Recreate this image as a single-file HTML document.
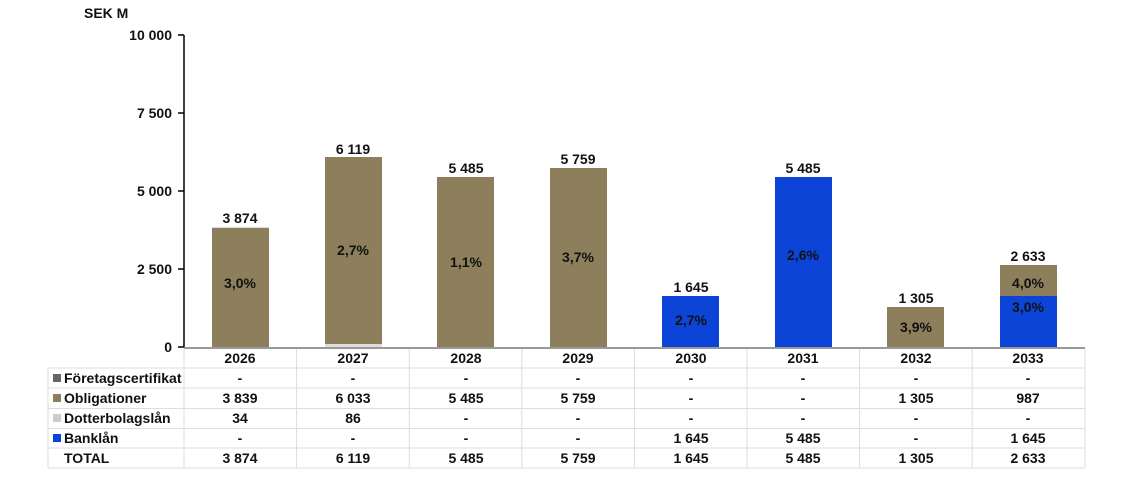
<!DOCTYPE html>
<html><head><meta charset="utf-8"><style>
body{margin:0;background:#fff;}
svg text{font-family:"Liberation Sans",Arial,sans-serif;font-weight:bold;fill:#111;}
</style></head><body>
<svg width="1122" height="473" xmlns="http://www.w3.org/2000/svg">
<text x="84" y="18" font-size="14">SEK M</text>
<g font-size="14" text-anchor="end">
<text x="172" y="40">10 000</text>
<text x="172" y="118">7 500</text>
<text x="172" y="196">5 000</text>
<text x="172" y="274">2 500</text>
<text x="172" y="352">0</text>
</g>
<line x1="184" y1="35" x2="184" y2="347" stroke="#000" stroke-width="1.5"/>
<g stroke="#000" stroke-width="1.5">
<line x1="178" y1="35" x2="184" y2="35"/><line x1="178" y1="113" x2="184" y2="113"/>
<line x1="178" y1="191" x2="184" y2="191"/><line x1="178" y1="269" x2="184" y2="269"/>
<line x1="178" y1="347" x2="184" y2="347"/>
</g>
<g>
<rect x="212" y="228" width="57" height="119" fill="#8E7F5C"/>
<rect x="212" y="227" width="57" height="1" fill="#ddd"/>
<rect x="325" y="157" width="57" height="187" fill="#8E7F5C"/>
<rect x="325" y="344" width="57" height="3" fill="#ddd"/>
<rect x="437" y="177" width="57" height="170" fill="#8E7F5C"/>
<rect x="550" y="168" width="57" height="179" fill="#8E7F5C"/>
<rect x="662" y="296" width="57" height="51" fill="#0C44D8"/>
<rect x="775" y="177" width="57" height="170" fill="#0C44D8"/>
<rect x="887" y="307" width="57" height="40" fill="#8E7F5C"/>
<rect x="1000" y="296" width="57" height="51" fill="#0C44D8"/>
<rect x="1000" y="265" width="57" height="31" fill="#8E7F5C"/>
</g>
<g font-size="14" text-anchor="middle">
<text x="240" y="223">3 874</text>
<text x="353" y="154">6 119</text>
<text x="466" y="173">5 485</text>
<text x="578" y="164">5 759</text>
<text x="691" y="292">1 645</text>
<text x="803" y="173">5 485</text>
<text x="916" y="303">1 305</text>
<text x="1028" y="261">2 633</text>
<text x="240" y="288">3,0%</text>
<text x="353" y="255">2,7%</text>
<text x="466" y="267">1,1%</text>
<text x="578" y="262">3,7%</text>
<text x="691" y="325">2,7%</text>
<text x="803" y="260">2,6%</text>
<text x="916" y="332">3,9%</text>
<text x="1028" y="288">4,0%</text>
<text x="1028" y="312">3,0%</text>
</g>
<line x1="184" y1="348" x2="1085" y2="348" stroke="#999" stroke-width="2"/>
<g stroke="#ddd" stroke-width="1">
<line x1="48" y1="368" x2="1085" y2="368"/>
<line x1="48" y1="388" x2="1085" y2="388"/>
<line x1="48" y1="408.5" x2="1085" y2="408.5"/>
<line x1="48" y1="428.5" x2="1085" y2="428.5"/>
<line x1="48" y1="448" x2="1085" y2="448"/>
<line x1="48" y1="468" x2="1085" y2="468"/>
<line x1="48" y1="368" x2="48" y2="468"/>
<line x1="184" y1="349" x2="184" y2="468"/>
<line x1="296.6" y1="349" x2="296.6" y2="468"/>
<line x1="409.2" y1="349" x2="409.2" y2="468"/>
<line x1="521.8" y1="349" x2="521.8" y2="468"/>
<line x1="634.4" y1="349" x2="634.4" y2="468"/>
<line x1="747" y1="349" x2="747" y2="468"/>
<line x1="859.6" y1="349" x2="859.6" y2="468"/>
<line x1="972.2" y1="349" x2="972.2" y2="468"/>
<line x1="1085" y1="349" x2="1085" y2="468"/>
</g>
<rect x="53" y="374" width="8" height="8" fill="#666"/>
<rect x="53" y="394" width="8" height="8" fill="#8E7F5C"/>
<rect x="53" y="414" width="8" height="8" fill="#ccc"/>
<rect x="53" y="434" width="8" height="8" fill="#0C44D8"/>
<g font-size="14">
<text x="64" y="383">Företagscertifikat</text>
<text x="64" y="403">Obligationer</text>
<text x="64" y="423">Dotterbolagslån</text>
<text x="64" y="443">Banklån</text>
<text x="64" y="463">TOTAL</text>
</g>
<g font-size="14" text-anchor="middle">
<text x="240" y="363">2026</text><text x="353" y="363">2027</text><text x="466" y="363">2028</text><text x="578" y="363">2029</text><text x="691" y="363">2030</text><text x="803" y="363">2031</text><text x="916" y="363">2032</text><text x="1028" y="363">2033</text>
<text x="240" y="383">-</text><text x="353" y="383">-</text><text x="466" y="383">-</text><text x="578" y="383">-</text><text x="691" y="383">-</text><text x="803" y="383">-</text><text x="916" y="383">-</text><text x="1028" y="383">-</text>
<text x="240" y="403">3 839</text><text x="353" y="403">6 033</text><text x="466" y="403">5 485</text><text x="578" y="403">5 759</text><text x="691" y="403">-</text><text x="803" y="403">-</text><text x="916" y="403">1 305</text><text x="1028" y="403">987</text>
<text x="240" y="423">34</text><text x="353" y="423">86</text><text x="466" y="423">-</text><text x="578" y="423">-</text><text x="691" y="423">-</text><text x="803" y="423">-</text><text x="916" y="423">-</text><text x="1028" y="423">-</text>
<text x="240" y="443">-</text><text x="353" y="443">-</text><text x="466" y="443">-</text><text x="578" y="443">-</text><text x="691" y="443">1 645</text><text x="803" y="443">5 485</text><text x="916" y="443">-</text><text x="1028" y="443">1 645</text>
<text x="240" y="463">3 874</text><text x="353" y="463">6 119</text><text x="466" y="463">5 485</text><text x="578" y="463">5 759</text><text x="691" y="463">1 645</text><text x="803" y="463">5 485</text><text x="916" y="463">1 305</text><text x="1028" y="463">2 633</text>
</g>
</svg>
</body></html>
